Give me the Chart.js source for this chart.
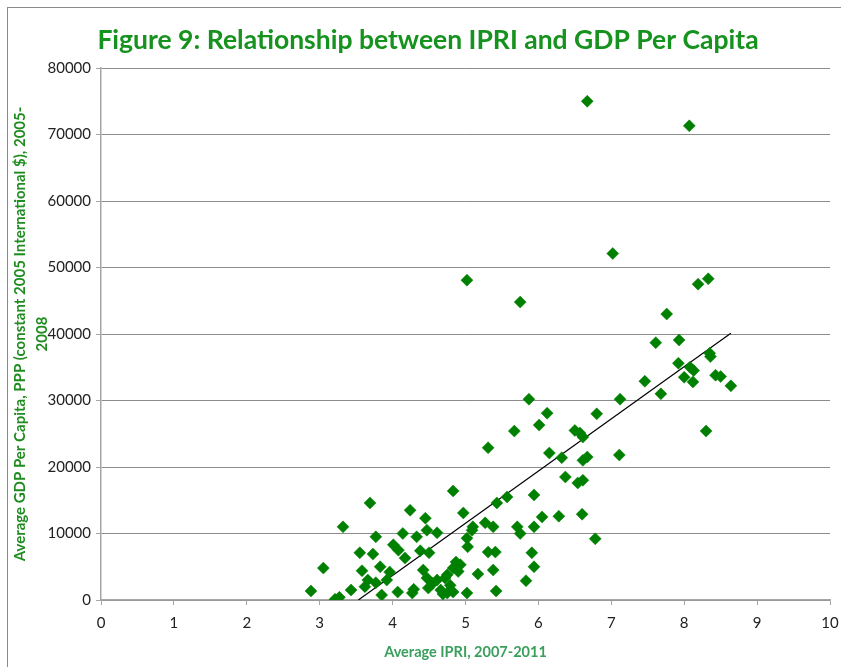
<!DOCTYPE html>
<html>
<head>
<meta charset="utf-8">
<script src="https://cdn.jsdelivr.net/npm/chart.js@4.4.0/dist/chart.umd.min.js"></script>
<style>
  html, body { margin: 0; padding: 0; background: #fff; }
  #wrap { position: relative; width: 841px; height: 667px; }
  #frame { position: absolute; left: 7px; top: 7px; right: 0; bottom: 0;
           border-left: 1.5px solid #8a8a8a; border-top: 1.5px solid #8a8a8a; pointer-events: none; }
</style>
</head>
<body>
<div id="wrap">
  <canvas id="ipriChart" width="841" height="667"></canvas>
  <div id="frame"></div>
</div>
<script>
// Figure 9: IPRI vs GDP per capita
const chartTitle = 'Figure 9: Relationship between IPRI and GDP Per Capita';

const ipri = [
  2.88, 3.05, 3.21, 3.27, 3.32, 3.43, 3.55, 3.58, 3.62, 3.66,
  3.69, 3.73, 3.77, 3.77, 3.83, 3.85, 3.92, 3.96, 4.01, 4.07,
  4.08, 4.14, 4.17, 4.24, 4.27, 4.29, 4.33, 4.38, 4.42, 4.45,
  4.47, 4.47, 4.49, 4.50, 4.55, 4.61, 4.61, 4.66, 4.69, 4.72,
  4.75, 4.75, 4.79, 4.83, 4.83, 4.83, 4.87, 4.90, 4.93, 4.97,
  5.02, 5.02, 5.03, 5.02, 5.10, 5.09, 5.17, 5.27, 5.31, 5.31,
  5.38, 5.38, 5.41, 5.42, 5.43, 5.57, 5.67, 5.71, 5.75, 5.75,
  5.83, 5.87, 5.91, 5.94, 5.94, 5.94, 6.01, 6.05, 6.12, 6.15,
  6.28, 6.32, 6.37, 6.50, 6.54, 6.57, 6.60, 6.61, 6.61, 6.61,
  6.67, 6.67, 6.78, 6.80, 7.02, 7.11, 7.12, 7.46, 7.61, 7.68,
  7.76, 7.92, 7.93, 8.00, 8.07, 8.08, 8.13, 8.12, 8.19, 8.30,
  8.33, 8.35, 8.36, 8.43, 8.50, 8.64
];
const gdp = [
  1350, 4800, 100, 400, 11000, 1500, 7100, 4400, 2000, 3000,
  14600, 6900, 9500, 2600, 5000, 750, 3000, 4200, 8300, 1200,
  7500, 10000, 6300, 13500, 1050, 1600, 9500, 7400, 4500, 12300,
  10500, 3300, 1800, 7100, 2500, 10100, 3000, 1500, 900, 3300,
  3800, 1050, 2200, 16400, 4800, 1200, 5700, 4300, 5300, 13100,
  48100, 9300, 8000, 1050, 11000, 10500, 3900, 11600, 22900, 7200,
  11000, 4500, 7200, 1350, 14600, 15500, 25400, 11000, 44800, 10000,
  2900, 30200, 7100, 15800, 11000, 5000, 26300, 12500, 28100, 22100,
  12600, 21400, 18500, 25500, 17600, 25100, 12900, 24500, 21000, 18000,
  21500, 75000, 9200, 28000, 52100, 21800, 30200, 32900, 38700, 31000,
  43000, 35600, 39100, 33500, 71300, 35000, 34500, 32800, 47500, 25400,
  48300, 37100, 36600, 33800, 33600, 32200
];

// linear trendline end points
const trendX = [3.53, 8.64];
const trendY = [0, 40100];

const xTicks = { min: 0, max: 10, step: 1 };
const yTicks = { min: 0, max: 80000, step: 10000 };

const points = ipri.map((x, i) => ({ x: x, y: gdp[i] }));
const trend = trendX.map((x, i) => ({ x: x, y: trendY[i] }));

const titlePlugin = {
  id: 'figureTitle',
  afterDraw(chart) {
    const ctx = chart.ctx;
    ctx.save();
    ctx.font = 'bold 26.5px Lato';
    ctx.fillStyle = '#16921e';
    ctx.textAlign = 'center';
    ctx.textBaseline = 'alphabetic';
    ctx.fillText(chartTitle, 428, 49);
    ctx.restore();
  }
};

const tickFont = { family: 'Lato', size: 15 };

const ctx = document.getElementById('ipriChart').getContext('2d');
new Chart(ctx, {
  type: 'scatter',
  data: {
    datasets: [
      {
        label: 'Countries',
        data: points,
        pointStyle: 'rectRot',
        pointRadius: 6,
        pointBackgroundColor: '#008000',
        pointBorderColor: '#008000',
        pointBorderWidth: 0.5,
      },
      {
        type: 'line',
        label: 'Trend',
        data: trend,
        borderColor: '#000',
        borderWidth: 1.2,
        pointRadius: 0,
        fill: false,
      },
    ],
  },
  options: {
    responsive: false,
    animation: false,
    layout: { padding: { top: 68, right: 11, bottom: 0, left: 0 } },
    plugins: {
      legend: { display: false },
      tooltip: { enabled: false },
    },
    scales: {
      x: {
        type: 'linear',
        min: xTicks.min,
        max: xTicks.max,
        ticks: { stepSize: xTicks.step, color: '#222', font: tickFont, padding: 9 },
        grid: { drawOnChartArea: false, tickLength: 5, color: '#a6a6a6', tickColor: '#a6a6a6' },
        border: { color: '#a6a6a6', width: 1.5 },
        title: {
          display: true,
          text: 'Average IPRI, 2007-2011',
          color: '#3a9f5c',
          font: { family: 'Lato', size: 14.5, weight: 'bold' },
          padding: { top: 0, bottom: 6 },
        },
        afterFit: (scale) => {
          scale.height = 67;
          scale.paddingLeft = 0;
          scale.paddingRight = 0;
        },
      },
      y: {
        min: yTicks.min,
        max: yTicks.max,
        ticks: { stepSize: yTicks.step, color: '#222', font: tickFont, padding: 5, callback: (v) => v },
        grid: { color: '#8c8c8c', lineWidth: 1, tickLength: 5, tickColor: '#a6a6a6' },
        border: { color: '#a6a6a6', width: 1.5 },
        title: {
          display: true,
          text: ['Average GDP Per Capita, PPP (constant 2005 International $), 2005-', '2008'],
          color: '#1f8c1f',
          font: { family: 'Lato', size: 15, weight: 'bold', lineHeight: 1.42 },
          padding: { top: 10, bottom: 0 },
        },
        afterFit: (scale) => { scale.width = 101; },
      },
    },
  },
  plugins: [titlePlugin],
});
</script>
</body>
</html>
